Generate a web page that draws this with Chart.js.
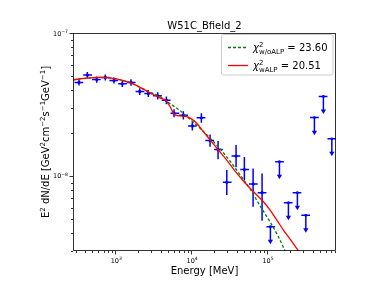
<!DOCTYPE html>
<html>
<head>
<meta charset="utf-8">
<script src="https://cdn.jsdelivr.net/npm/chart.js@4/dist/chart.umd.min.js"></script>
<style>
  html, body { margin: 0; padding: 0; background: #fff; }
  #wrap { width: 374px; height: 282px; }
</style>
</head>
<body>
<div id="wrap"><canvas id="sed" width="374" height="282"></canvas></div>
<script>
// flux points (MeV, GeV cm^-2 s^-1 GeV^-1 scaled as in the plot)
const energy = [332, 428, 569, 738, 961, 1237, 1611, 2099, 2725, 3623, 4710, 5946, 7889,
  10370, 13640, 17750, 22640, 29500, 39100, 50300, 65600, 86100];
const flux = [4.51e-8, 5.08e-8, 4.73e-8, 4.89e-8, 4.66e-8, 4.41e-8, 4.51e-8, 3.90e-8, 3.78e-8,
  3.64e-8, 3.39e-8, 2.75e-8, 2.66e-8, 2.24e-8, 2.55e-8, 1.77e-8, 1.53e-8, 9.04e-9, 1.38e-8,
  1.11e-8, 8.79e-9, 7.64e-9];
const fluxHi = [4.74e-8, 5.33e-8, 4.97e-8, 5.13e-8, 4.89e-8, 4.63e-8, 4.74e-8, 4.11e-8, 3.99e-8,
  3.85e-8, 3.60e-8, 2.93e-8, 2.84e-8, 2.40e-8, 2.75e-8, 1.95e-8, 1.76e-8, 1.10e-8, 1.65e-8,
  1.36e-8, 1.13e-8, 1.04e-8];
const fluxLo = [4.29e-8, 4.83e-8, 4.49e-8, 4.65e-8, 4.43e-8, 4.19e-8, 4.28e-8, 3.69e-8, 3.57e-8,
  3.43e-8, 3.18e-8, 2.57e-8, 2.48e-8, 2.08e-8, 2.36e-8, 1.60e-8, 1.31e-8, 7.36e-9, 1.15e-8,
  9.38e-9, 6.10e-9, 4.87e-9];

// upper limits
const ulEnergy = [110900, 145900, 191600, 251600, 325000, 422000, 554000, 716000];
const ulFlux = [4.42e-9, 1.26e-8, 6.50e-9, 7.64e-9, 5.31e-9, 2.56e-8, 3.60e-8, 1.82e-8];

// energy bin edges (30 bins)
const binEdges = [290, 378, 493, 642, 836, 1090, 1420, 1851, 2413, 3145, 4099, 5341, 6960,
  9070, 11820, 15400, 20070, 26160, 34090, 44420, 57880, 75430, 98290, 128100, 166900,
  217500, 283400, 369300, 481300, 627200, 817300];

// model curves
const noAlpE = [281, 398, 628, 991, 1563, 2118, 2870, 3890, 5270, 7140, 9660, 13090, 17770,
  24050, 32580, 44150, 59830, 81100, 109900, 139700, 172600];
const noAlpF = [4.71e-8, 4.82e-8, 4.89e-8, 4.79e-8, 4.49e-8, 4.17e-8, 3.85e-8, 3.60e-8, 3.20e-8,
  2.87e-8, 2.49e-8, 2.16e-8, 1.84e-8, 1.55e-8, 1.27e-8, 1.02e-8, 8.11e-9, 6.17e-9, 4.77e-9,
  3.80e-9, 3.00e-9];
const alpE = [281, 398, 628, 991, 1563, 2118, 2870, 3890, 4670, 5270, 5820, 6320, 7140, 8750,
  10190, 11860, 14490, 17770, 22870, 29510, 38000, 51500, 66300, 89700, 109900, 134700,
  164600, 201600, 259300];
const alpF = [4.71e-8, 4.82e-8, 4.89e-8, 4.79e-8, 4.49e-8, 4.17e-8, 3.82e-8, 3.52e-8, 3.36e-8,
  3.06e-8, 2.75e-8, 2.65e-8, 2.63e-8, 2.60e-8, 2.50e-8, 2.34e-8, 2.04e-8, 1.79e-8, 1.52e-8,
  1.29e-8, 1.08e-8, 8.93e-9, 7.76e-9, 6.61e-9, 5.78e-9, 4.92e-9, 4.19e-9, 3.62e-9, 3.00e-9];

const chiNoAlp = '23.60';
const chiAlp = '20.51';

const xMajor = [1e3, 1e4, 1e5];
const xMajorExp = ['3', '4', '5'];
const yMajor = [1e-8, 1e-7];
const yMajorExp = ['\u22128', '\u22127'];

const xRange = [276.9, 812400];
const yRange = [2.988e-9, 1e-7];

const FAM = '"DejaVu Sans", sans-serif';

function drawRich(ctx, parts, x, y, size, align) {
  const small = size * 0.7;
  const items = [];
  let w = 0;
  parts.forEach(p => {
    if (p.sup !== undefined && p.sub !== undefined) {
      ctx.font = `${small}px ${FAM}`;
      const w1 = ctx.measureText(p.sup).width, w2 = ctx.measureText(p.sub).width;
      items.push({ t: p.sup, f: ctx.font, x: w, dy: -size * 0.42 });
      items.push({ t: p.sub, f: ctx.font, x: w, dy: size * 0.28 });
      w += Math.max(w1, w2);
    } else if (p.sup !== undefined) {
      ctx.font = `${small}px ${FAM}`;
      items.push({ t: p.sup, f: ctx.font, x: w, dy: -size * 0.42 });
      w += ctx.measureText(p.sup).width;
    } else {
      ctx.font = `${p.it ? 'italic ' : ''}${size}px ${FAM}`;
      items.push({ t: p.t, f: ctx.font, x: w, dy: 0 });
      w += ctx.measureText(p.t).width;
    }
  });
  const x0 = align === 'center' ? x - w / 2 : align === 'right' ? x - w : x;
  ctx.textAlign = 'left';
  ctx.textBaseline = 'alphabetic';
  items.forEach(it => { ctx.font = it.f; ctx.fillText(it.t, x0 + it.x, y + it.dy); });
}

const errorBars = {
  id: 'errorBars',
  beforeDatasetsDraw(chart) {
    const { ctx, chartArea: a, scales: { x, y } } = chart;
    ctx.save();
    ctx.beginPath();
    ctx.rect(a.left, a.top, a.right - a.left, a.bottom - a.top);
    ctx.clip();
    ctx.strokeStyle = '#0000ff';
    ctx.fillStyle = '#0000ff';
    ctx.lineWidth = 1.5;
    energy.forEach((e, i) => {
      const px = x.getPixelForValue(e), py = y.getPixelForValue(flux[i]);
      ctx.beginPath();
      ctx.moveTo(x.getPixelForValue(binEdges[i]), py);
      ctx.lineTo(x.getPixelForValue(binEdges[i + 1]), py);
      ctx.moveTo(px, y.getPixelForValue(fluxHi[i]));
      ctx.lineTo(px, y.getPixelForValue(fluxLo[i]));
      ctx.stroke();
    });
    ulEnergy.forEach((e, i) => {
      const k = i + energy.length;
      const px = x.getPixelForValue(e), py = y.getPixelForValue(ulFlux[i]);
      const tip = y.getPixelForValue(ulFlux[i] * 0.76);
      ctx.beginPath();
      ctx.moveTo(x.getPixelForValue(binEdges[k]), py);
      ctx.lineTo(x.getPixelForValue(binEdges[k + 1]), py);
      ctx.moveTo(px, py);
      ctx.lineTo(px, tip - 3);
      ctx.stroke();
      ctx.beginPath();
      ctx.moveTo(px - 2.6, tip - 4);
      ctx.lineTo(px + 2.6, tip - 4);
      ctx.lineTo(px, tip + 0.5);
      ctx.closePath();
      ctx.fill();
    });
    ctx.restore();
  }
};

const axesDeco = {
  id: 'axesDeco',
  afterDraw(chart) {
    const { ctx, chartArea: a, scales: { x, y } } = chart;
    ctx.save();
    ctx.fillStyle = '#000';
    ctx.strokeStyle = '#000';
    ctx.lineWidth = 0.8;
    ctx.strokeRect(a.left + 0.5, a.top + 0.5, a.right - a.left - 1, a.bottom - a.top - 1);

    // x ticks
    ctx.beginPath();
    for (let d = 2; d <= 5; d++) {
      for (let m = 1; m <= 9; m++) {
        const v = m * Math.pow(10, d);
        if (v < xRange[0] || v > xRange[1]) continue;
        const px = Math.round(x.getPixelForValue(v)) + 0.5;
        ctx.moveTo(px, a.bottom);
        ctx.lineTo(px, a.bottom + (m === 1 ? 3.5 : 2));
      }
    }
    // y ticks
    for (let d = -9; d <= -8; d++) {
      for (let m = 1; m <= 9; m++) {
        const v = m * Math.pow(10, d);
        if (v < yRange[0] || v > yRange[1]) continue;
        const py = Math.round(y.getPixelForValue(v)) + 0.5;
        ctx.moveTo(a.left, py);
        ctx.lineTo(a.left - (m === 1 ? 3.5 : 2), py);
      }
    }
    const pyTop = Math.round(y.getPixelForValue(1e-7)) + 0.5;
    ctx.moveTo(a.left, pyTop);
    ctx.lineTo(a.left - 3.5, pyTop);
    ctx.stroke();

    xMajor.forEach((v, i) => {
      drawRich(ctx, [{ t: '10' }, { sup: xMajorExp[i] }], x.getPixelForValue(v) + 1, a.bottom + 12, 6.5, 'center');
    });
    yMajor.forEach((v, i) => {
      drawRich(ctx, [{ t: '10' }, { sup: yMajorExp[i] }], a.left - 5, y.getPixelForValue(v) + 2.5, 6.5, 'right');
    });

    const cx = (a.left + a.right) / 2;
    ctx.font = `10px ${FAM}`;
    ctx.textAlign = 'center';
    ctx.textBaseline = 'alphabetic';
    ctx.fillText('W51C_Bfield_2', cx, 29);
    ctx.font = `10px ${FAM}`;
    ctx.fillText('Energy [MeV]', cx, 273.5);

    ctx.save();
    ctx.translate(49, (a.top + a.bottom) / 2);
    ctx.rotate(-Math.PI / 2);
    drawRich(ctx, [{ t: 'E' }, { sup: '2' }, { t: ' dN/dE [GeV' }, { sup: '2' }, { t: 'cm' },
      { sup: '\u22122' }, { t: 's' }, { sup: '\u22121' }, { t: 'GeV' }, { sup: '\u22121' }, { t: ']' }],
      0, 0, 10, 'center');
    ctx.restore();

    // legend
    const lx = 221.5, ly = 34.5, lw = 111.5, lh = 40.5;
    ctx.fillStyle = 'rgba(255,255,255,0.85)';
    ctx.strokeStyle = '#cccccc';
    ctx.lineWidth = 1;
    ctx.beginPath();
    ctx.roundRect(lx, ly, lw, lh, 2);
    ctx.fill();
    ctx.stroke();
    ctx.lineWidth = 1.3;
    ctx.strokeStyle = '#008000';
    ctx.setLineDash([3, 2]);
    ctx.beginPath();
    ctx.moveTo(228, 47.5); ctx.lineTo(248, 47.5);
    ctx.stroke();
    ctx.setLineDash([]);
    ctx.strokeStyle = '#ff0000';
    ctx.beginPath();
    ctx.moveTo(228, 65.5); ctx.lineTo(248, 65.5);
    ctx.stroke();
    ctx.fillStyle = '#000';
    drawRich(ctx, [{ t: '\u03c7', it: true }, { sup: '2', sub: 'w/oALP' }, { t: ' = ' + chiNoAlp }], 253, 51, 10, 'left');
    drawRich(ctx, [{ t: '\u03c7', it: true }, { sup: '2', sub: 'wALP' }, { t: ' = ' + chiAlp }], 253, 69, 10, 'left');
    ctx.restore();
  }
};

const toXY = (xs, ys) => xs.map((v, i) => ({ x: v, y: ys[i] }));

new Chart(document.getElementById('sed'), {
  type: 'scatter',
  data: {
    datasets: [
      {
        label: 'wALP',
        data: toXY(alpE, alpF),
        showLine: true,
        borderColor: '#ff0000',
        borderWidth: 1.3,
        pointRadius: 0,
        cubicInterpolationMode: 'monotone'
      },
      {
        label: 'w/oALP',
        data: toXY(noAlpE, noAlpF),
        showLine: true,
        borderColor: '#008000',
        borderWidth: 1.3,
        borderDash: [3, 2],
        pointRadius: 0,
        cubicInterpolationMode: 'monotone'
      },
      {
        label: 'data',
        data: toXY(energy, flux),
        pointRadius: 1.6,
        pointBackgroundColor: '#0000ff',
        pointBorderColor: '#0000ff',
        pointBorderWidth: 0
      },
      {
        label: 'ul',
        data: toXY(ulEnergy, ulFlux),
        pointRadius: 1.4,
        pointBackgroundColor: '#0000ff',
        pointBorderColor: '#0000ff',
        pointBorderWidth: 0
      }
    ]
  },
  options: {
    responsive: false,
    animation: false,
    events: [],
    layout: { padding: { left: 73, right: 38, top: 33, bottom: 31 } },
    plugins: { legend: { display: false }, tooltip: { enabled: false } },
    scales: {
      x: { type: 'logarithmic', min: xRange[0], max: xRange[1], display: false },
      y: { type: 'logarithmic', min: yRange[0], max: yRange[1], display: false }
    }
  },
  plugins: [errorBars, axesDeco]
});
</script>
</body>
</html>
